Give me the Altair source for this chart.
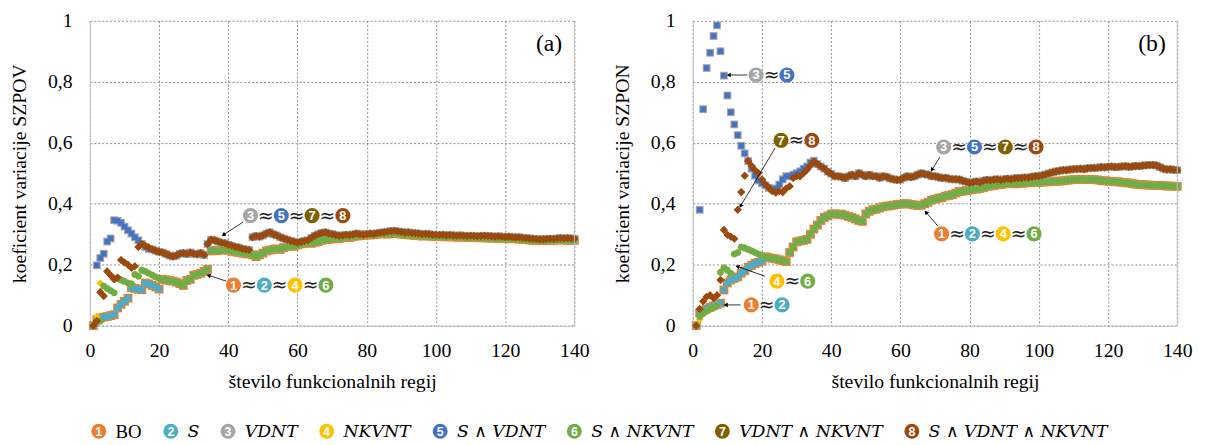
import math
import altair as alt
import pandas as pd

# ---------------- data ----------------
x_vals = list(range(1, 141))
X_TICKS = [0, 20, 40, 60, 80, 100, 120, 140]
Y_TICKS = [0, 0.2, 0.4, 0.6, 0.8, 1.0]

series_names = ["BO", "S", "VDNT", "NKVNT", "S ∧ VDNT", "S ∧ NKVNT",
                "VDNT ∧ NKVNT", "S ∧ VDNT ∧ NKVNT"]
series_colors = ["#ED7D31", "#4BACC6", "#A5A5A5", "#FFC000",
                 "#4472C4", "#70AD47", "#7F6000", "#9E480E"]

# ---- panel (a): SZPOV ----
a_head_s12 = [0.0, 0.020, 0.025, 0.028, 0.030, 0.033, 0.036, 0.058, 0.070, 0.080,
              0.090, 0.125, 0.122, 0.120, 0.118, 0.140, 0.137, 0.132, 0.127, 0.120]
a_head_s6 = [0.0, 0.010, 0.015, 0.130, 0.122, 0.115, 0.108, 0.155, 0.150, 0.145,
             0.140, 0.137, 0.168, 0.162, 0.182, 0.178, 0.172, 0.166, 0.160, 0.155]
a_head_s4 = [0.0, 0.030, 0.139, 0.130, 0.122, 0.115, 0.108, 0.155, 0.150, 0.145,
             0.140, 0.137, 0.168, 0.162, 0.182, 0.178, 0.172, 0.166, 0.160, 0.155]
a_tail_A = [0.152, 0.150, 0.148, 0.146, 0.143, 0.138, 0.132, 0.148, 0.152, 0.165,
            0.168, 0.172, 0.178, 0.185,
            0.245, 0.247, 0.246, 0.248, 0.250, 0.247, 0.244, 0.242, 0.240, 0.238,
            0.236, 0.235, 0.232, 0.226, 0.232, 0.238,
            0.245, 0.248, 0.250, 0.252, 0.250, 0.256, 0.260, 0.262, 0.260, 0.265,
            0.268, 0.270, 0.272, 0.270, 0.274, 0.275, 0.280, 0.282, 0.283, 0.285,
            0.286, 0.285, 0.288, 0.290, 0.289, 0.292, 0.294, 0.295, 0.296, 0.298,
            0.297, 0.299, 0.300, 0.301, 0.302, 0.300, 0.302, 0.303, 0.302, 0.300,
            0.299, 0.298, 0.297, 0.296, 0.295, 0.294, 0.295, 0.294, 0.293, 0.292,
            0.293, 0.292, 0.291, 0.292, 0.291, 0.290, 0.291, 0.290, 0.289, 0.290,
            0.289, 0.288, 0.289, 0.288, 0.287, 0.288, 0.287, 0.286, 0.287, 0.286,
            0.285, 0.286, 0.285, 0.284, 0.283, 0.282, 0.281, 0.280, 0.280, 0.279,
            0.279, 0.280, 0.281, 0.280, 0.281, 0.282, 0.281, 0.280, 0.281, 0.280]
a_head_s35 = [0.0, 0.198, 0.222, 0.236, 0.276, 0.286, 0.346, 0.344, 0.337, 0.325,
              0.313, 0.302, 0.290, 0.280, 0.268, 0.258, 0.252]
a_head_s78 = [0.0, 0.015, 0.110, 0.097, 0.178, 0.165, 0.152, 0.158, 0.215, 0.207,
              0.200, 0.190, 0.195, 0.258, 0.268, 0.262, 0.256]
a_tail_B = [0.250, 0.246, 0.242, 0.240, 0.235, 0.230, 0.227, 0.230, 0.236, 0.238,
            0.235, 0.240, 0.236, 0.234, 0.238, 0.232, 0.268,
            0.282, 0.280, 0.276, 0.272, 0.270, 0.265, 0.262, 0.258, 0.256, 0.252,
            0.250, 0.248, 0.290, 0.294, 0.292, 0.296,
            0.302, 0.306, 0.300, 0.296, 0.290, 0.286, 0.282, 0.278, 0.275, 0.272,
            0.275, 0.278, 0.280, 0.288, 0.295, 0.300, 0.304, 0.306, 0.302, 0.300,
            0.297, 0.295, 0.296, 0.298, 0.297, 0.299, 0.302, 0.300, 0.298, 0.300,
            0.302, 0.300, 0.303, 0.305, 0.306, 0.308, 0.310, 0.311, 0.309, 0.307,
            0.305, 0.306, 0.304, 0.303, 0.302, 0.300, 0.301, 0.300, 0.298, 0.298,
            0.297, 0.298, 0.296, 0.297, 0.296, 0.295, 0.296, 0.295, 0.294, 0.295,
            0.294, 0.293, 0.294, 0.295, 0.294, 0.293, 0.292, 0.293, 0.292, 0.291,
            0.292, 0.290, 0.289, 0.290, 0.288, 0.287, 0.286, 0.285, 0.284, 0.283,
            0.283, 0.284, 0.285, 0.284, 0.286, 0.287, 0.286, 0.287, 0.286, 0.285]

# ---- panel (b): SZPON ----
b_head_s12 = [0.0, 0.042, 0.050, 0.055, 0.060, 0.065, 0.070, 0.074, 0.117, 0.140,
              0.150, 0.155, 0.160, 0.172, 0.180, 0.192, 0.198, 0.204, 0.208, 0.212]
b_head_s6 = [0.0, 0.030, 0.040, 0.048, 0.055, 0.060, 0.065, 0.175, 0.190, 0.182,
             0.172, 0.235, 0.240, 0.258, 0.255, 0.250, 0.245, 0.240, 0.235, 0.230]
b_head_s4 = [0.0, 0.020, 0.040, 0.048, 0.055, 0.060, 0.065, 0.175, 0.190, 0.182,
             0.172, 0.235, 0.240, 0.258, 0.255, 0.250, 0.245, 0.240, 0.235, 0.230]
b_tail_A = [0.226, 0.223, 0.221, 0.219, 0.216, 0.213, 0.210, 0.240, 0.258, 0.275,
            0.278, 0.280, 0.283, 0.300, 0.317, 0.330, 0.345, 0.355, 0.360, 0.366,
            0.367, 0.365, 0.366, 0.362, 0.358, 0.355, 0.350, 0.345, 0.342, 0.366,
            0.375, 0.380, 0.382, 0.386, 0.390, 0.392, 0.393, 0.395, 0.398, 0.398,
            0.400, 0.400, 0.398, 0.396, 0.394, 0.395, 0.400, 0.405, 0.412, 0.415,
            0.418, 0.420, 0.425, 0.427, 0.430, 0.435, 0.440, 0.441, 0.443, 0.445,
            0.447, 0.448, 0.450, 0.453, 0.457, 0.458, 0.460, 0.462, 0.463, 0.465,
            0.466, 0.466, 0.465, 0.466, 0.467, 0.468, 0.469, 0.470, 0.470, 0.470,
            0.471, 0.472, 0.472, 0.473, 0.474, 0.474, 0.475, 0.477, 0.478, 0.479,
            0.479, 0.480, 0.479, 0.479, 0.480, 0.479, 0.478, 0.476, 0.475, 0.474,
            0.473, 0.472, 0.472, 0.470, 0.469, 0.468, 0.466, 0.464, 0.463, 0.462,
            0.462, 0.461, 0.460, 0.460, 0.460, 0.459, 0.458, 0.458, 0.457, 0.457]
b_head_s35 = [0.0, 0.380, 0.710, 0.845, 0.895, 0.950, 0.985, 0.900, 0.820, 0.755,
              0.700, 0.660, 0.625, 0.590, 0.565, 0.540, 0.515, 0.492, 0.476, 0.467,
              0.460, 0.452, 0.447, 0.450, 0.463, 0.480, 0.490, 0.490, 0.495, 0.500,
              0.506, 0.515, 0.522, 0.535, 0.541]
b_head_s78 = [0.0, 0.055, 0.080, 0.095, 0.100, 0.090, 0.100, 0.150, 0.314, 0.298,
              0.292, 0.285, 0.380, 0.438, 0.492, 0.540, 0.524, 0.510, 0.500, 0.479,
              0.463, 0.452, 0.441, 0.436, 0.441, 0.438, 0.450, 0.457, 0.484, 0.490,
              0.490, 0.500, 0.511, 0.525, 0.538]
b_tail_B = [0.530, 0.522, 0.515, 0.505, 0.498, 0.490, 0.490, 0.488, 0.484, 0.490,
            0.495, 0.490, 0.500, 0.495, 0.490, 0.495, 0.490, 0.490, 0.485, 0.490,
            0.488, 0.483, 0.480, 0.478, 0.479, 0.485, 0.490, 0.487, 0.490, 0.495,
            0.500, 0.497, 0.495, 0.490, 0.490, 0.487, 0.484, 0.485, 0.482, 0.480,
            0.480, 0.479, 0.475, 0.472, 0.468, 0.470, 0.473, 0.470, 0.475, 0.478,
            0.476, 0.479, 0.480, 0.477, 0.480, 0.482, 0.480, 0.483, 0.484, 0.484,
            0.486, 0.485, 0.488, 0.490, 0.490, 0.493, 0.496, 0.500, 0.503, 0.506,
            0.508, 0.510, 0.510, 0.512, 0.513, 0.514, 0.515, 0.513, 0.516, 0.517,
            0.517, 0.518, 0.520, 0.519, 0.521, 0.522, 0.520, 0.521, 0.522, 0.523,
            0.521, 0.522, 0.524, 0.523, 0.525, 0.526, 0.527, 0.527, 0.525, 0.520,
            0.515, 0.512, 0.513, 0.511, 0.510]

# series 1..8 for each panel (1≈2, 4≈6, 3≈5, 7≈8 in the picture)
panel_a_series = [a_head_s12 + a_tail_A, a_head_s12 + a_tail_A, a_head_s35 + a_tail_B,
                  a_head_s4 + a_tail_A, a_head_s35 + a_tail_B, a_head_s6 + a_tail_A,
                  a_head_s78 + a_tail_B, a_head_s78 + a_tail_B]
panel_b_series = [b_head_s12 + b_tail_A, b_head_s12 + b_tail_A, b_head_s35 + b_tail_B,
                  b_head_s4 + b_tail_A, b_head_s35 + b_tail_B, b_head_s6 + b_tail_A,
                  b_head_s78 + b_tail_B, b_head_s78 + b_tail_B]

# annotation groups: (series ids, x of first circle, y)
annot_a = [([3, 5, 7, 8], 46.4, 0.361), ([1, 2, 4, 6], 41.5, 0.133)]
annot_b = [([3, 5], 18.3, 0.822), ([7, 8], 25.5, 0.608), ([4, 6], 24.3, 0.146),
           ([1, 2], 16.9, 0.068), ([3, 5, 7, 8], 72.5, 0.586), ([1, 2, 4, 6], 71.9, 0.301)]
arrows_a = [(44.3, 0.340, 38.6, 0.298), (39.4, 0.146, 34.3, 0.165)]
arrows_b = [(15.8, 0.822, 10.4, 0.822), (23.8, 0.583, 13.8, 0.392),
            (20.9, 0.162, 12.9, 0.194), (13.8, 0.068, 9.5, 0.068),
            (71.4, 0.553, 69.1, 0.511), (70.8, 0.327, 67.4, 0.372)]

# ---------------- styling ----------------
W, H = 491, 309
styles = [("square", 80), ("square", 42), ("square", 62), ("diamond", 60),
          ("square", 32), ("circle", 46), ("diamond", 66), ("diamond", 60)]
CIRCLE_STEP = 8.9
SERIF = "Liberation Serif"


def X(field, title="število funkcionalnih regij"):
    return alt.X(f"{field}:Q", scale=alt.Scale(domain=[0, 140], nice=False),
                 axis=alt.Axis(values=X_TICKS, title=title, grid=True,
                               labelFont=SERIF, titleFont=SERIF,
                               labelFontSize=20, titleFontSize=20,
                               labelPadding=15, titlePadding=12))


def Y(field, title):
    return alt.Y(f"{field}:Q", scale=alt.Scale(domain=[0, 1], nice=False),
                 axis=alt.Axis(values=Y_TICKS, title=title, grid=True,
                               labelFont=SERIF, titleFont=SERIF,
                               labelFontSize=20, titleFontSize=20,
                               labelPadding=18, titlePadding=18,
                               labelExpr="replace(toString(datum.value), '.', ',')"))


def panel(series, ytitle, tag, annots, arrows):
    layers = []
    for k in range(8):
        df = pd.DataFrame({"x": x_vals, "y": series[k]})
        shape, size = styles[k]
        layers.append(
            alt.Chart(df).mark_point(shape=shape, size=size, filled=True, opacity=1,
                                     color=series_colors[k])
            .encode(x=X("x"), y=Y("y", ytitle)))

    # right border
    border = pd.DataFrame({"x": [140], "y": [0], "y2": [1]})
    layers.append(alt.Chart(border).mark_rule(color="#bfbfbf", strokeWidth=1)
                  .encode(x=X("x"), y=Y("y", ytitle), y2="y2:Q"))

    # arrows
    arr_df = pd.DataFrame(arrows, columns=["x1", "y1", "x2", "y2"])
    sx, sy = W / 140.0, H / 1.0
    arr_df["ang"] = [
        math.degrees(math.atan2((r.x2 - r.x1) * sx, (r.y2 - r.y1) * sy)) % 360
        for r in arr_df.itertuples()]
    layers.append(alt.Chart(arr_df).mark_rule(color="black", strokeWidth=0.8)
                  .encode(x=X("x1"), y=Y("y1", ytitle), x2="x2:Q", y2="y2:Q"))
    layers.append(alt.Chart(arr_df).mark_point(shape="triangle-up", filled=True,
                                               size=22, color="black", opacity=1)
                  .encode(x=X("x2"), y=Y("y2", ytitle), angle=alt.Angle("ang:Q", scale=None)))

    # circled numbers with ≈ signs
    circ, approx = [], []
    for ids, x0, y0 in annots:
        for i, d in enumerate(ids):
            circ.append({"x": x0 + i * CIRCLE_STEP, "y": y0, "n": str(d),
                         "c": series_colors[d - 1]})
        for i in range(len(ids) - 1):
            approx.append({"x": x0 + (i + 0.5) * CIRCLE_STEP, "y": y0, "t": "≈"})
    circ_df = pd.DataFrame(circ)
    appr_df = pd.DataFrame(approx)
    layers.append(alt.Chart(circ_df).mark_point(shape="circle", filled=True, size=235,
                                                opacity=1)
                  .encode(x=X("x"), y=Y("y", ytitle), color=alt.Color("c:N", scale=None)))
    layers.append(alt.Chart(circ_df).mark_text(color="white", font="Liberation Sans",
                                               fontWeight="bold", fontSize=13, dy=0.5)
                  .encode(x=X("x"), y=Y("y", ytitle), text="n:N"))
    layers.append(alt.Chart(appr_df).mark_text(color="#222222", font="DejaVu Sans",
                                               fontSize=19)
                  .encode(x=X("x"), y=Y("y", ytitle), text="t:N"))

    # panel tag
    tag_df = pd.DataFrame({"x": [132.7], "y": [0.922], "t": [tag]})
    layers.append(alt.Chart(tag_df).mark_text(font=SERIF, fontSize=24, color="black")
                  .encode(x=X("x"), y=Y("y", ytitle), text="t:N"))

    return alt.layer(*layers).properties(width=W, height=H)


pa = panel(panel_a_series, "koeficient variacije SZPOV", "(a)", annot_a, arrows_a)
pb = panel(panel_b_series, "koeficient variacije SZPON", "(b)", annot_b, arrows_b)
top = alt.hconcat(pa, pb, spacing=24)

# legend row built from the series lists
items = []
for k in range(8):
    d = pd.DataFrame({"n": [str(k + 1)], "lab": [series_names[k]]})
    italic = series_names[k] != "BO"
    c = alt.Chart(d).mark_point(shape="circle", filled=True, size=230, opacity=1,
                                color=series_colors[k]).encode(x=alt.value(9), y=alt.value(10))
    t = alt.Chart(d).mark_text(color="white", font="Liberation Sans", fontWeight="bold",
                               fontSize=12.5, dy=0.5).encode(x=alt.value(9), y=alt.value(10), text="n:N")
    lab = alt.Chart(d).mark_text(
        align="left", baseline="middle", color="black",
        font="DejaVu Serif" if italic else SERIF,
        fontStyle="italic" if italic else "normal",
        fontSize=17.5 if italic else 19,
    ).encode(x=alt.value(26), y=alt.value(11), text="lab:N")
    items.append(alt.layer(c, t, lab).properties(width=10, height=20))
legend_row = alt.hconcat(*items, spacing=20)

chart = (
    alt.vconcat(top, legend_row, spacing=30)
    .properties(padding={"left": 2, "top": 0, "right": 5, "bottom": 0})
    .configure(font=SERIF)
    .configure_view(stroke=None)
    .configure_axis(labelFont=SERIF, titleFont=SERIF,
                    titleFontWeight="normal", labelColor="black", titleColor="black",
                    ticks=False, domainColor="#bfbfbf", gridColor="#8c8c8c",
                    gridDash=[2, 2], gridWidth=1, labelFlush=False, labelOverlap=False)
)

chart.save("out.html", embed_options={"renderer": "svg", "actions": False})
